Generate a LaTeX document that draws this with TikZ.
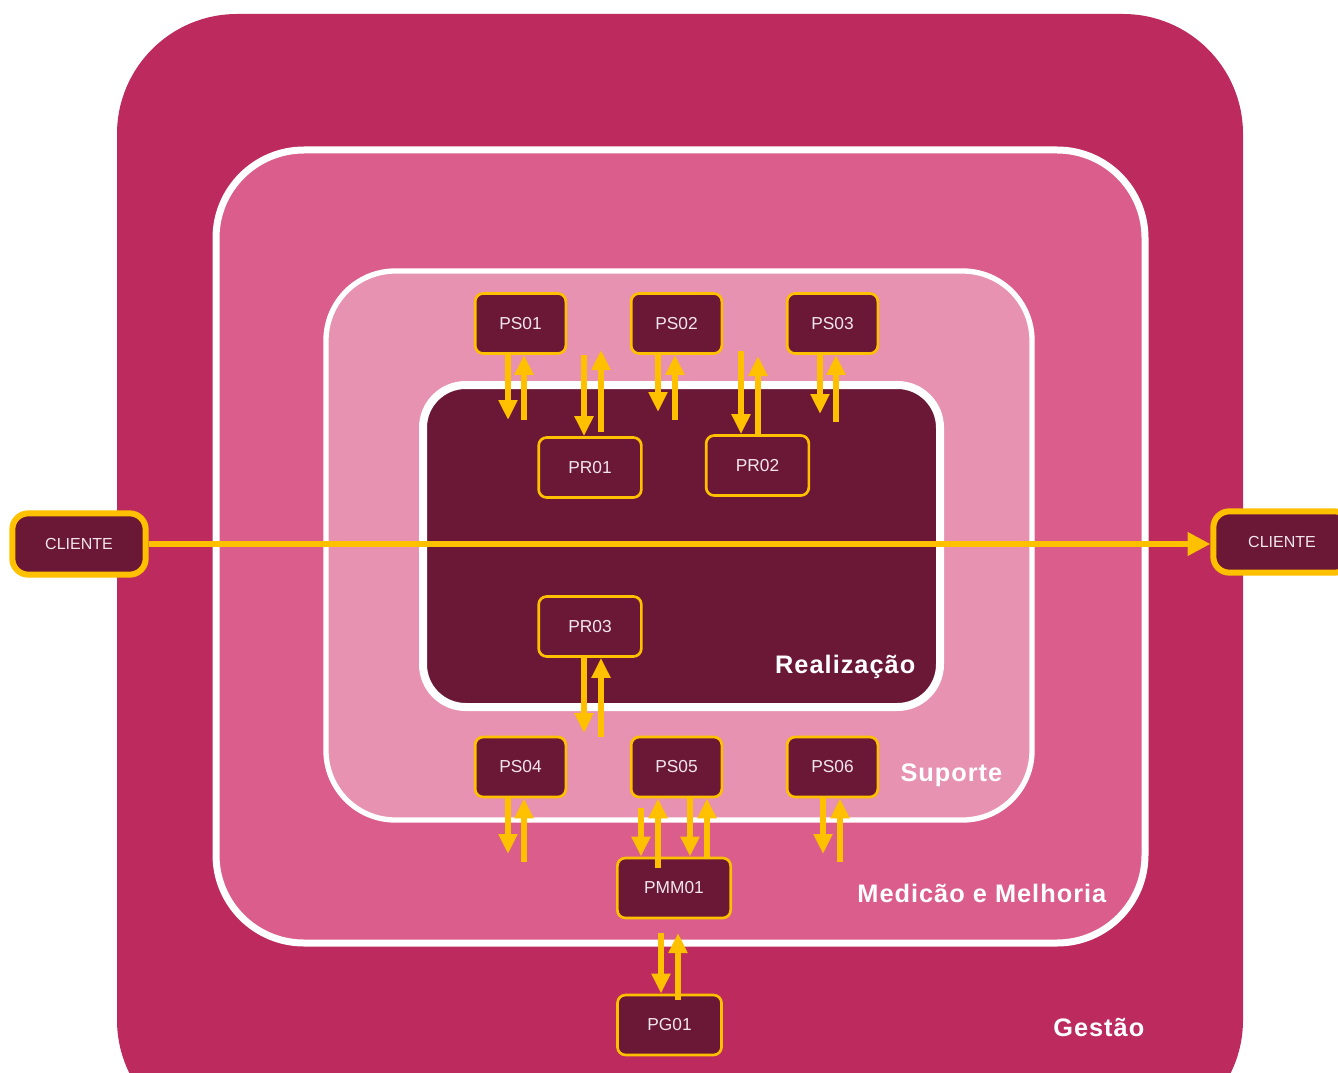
\documentclass[tikz,border=0pt]{standalone}
\usepackage{fontspec}
\setmainfont{Liberation Sans}
\usetikzlibrary{arrows.meta}

\definecolor{gestao}{HTML}{BC2A5E}
\definecolor{medicao}{HTML}{DB5D8C}
\definecolor{suporte}{HTML}{E792B0}
\definecolor{realiz}{HTML}{6B1837}
\definecolor{ouro}{HTML}{FFC000}
\definecolor{texto}{HTML}{F2E6EC}

\tikzset{
  proc/.style={draw=ouro, fill=realiz, line width=2pt, rounded corners=6pt,
    minimum width=68pt, minimum height=45pt, inner sep=0pt,
    text=texto, font=\fontsize{13}{15}\selectfont},
  cliente/.style={proc, line width=4.5pt, rounded corners=12pt,
    minimum width=100pt, minimum height=46pt, font=\fontsize{12}{14}\selectfont},
  flow/.style={draw=ouro, line width=4.5pt,
    -{Triangle[width=13.5pt,length=15pt]}},
  bigflow/.style={draw=ouro, line width=3.8pt,
    -{Triangle[width=17pt,length=17pt]}},
  layer/.style={text=white, font=\bfseries\fontsize{19}{22}\selectfont\addfontfeature{LetterSpace=4}}
}

\begin{document}
\begin{tikzpicture}[x=0.75pt,y=-0.75pt]
  \useasboundingbox (0,0) rectangle (1338,1073);
  \clip (0,0) rectangle (1338,1073);
  \fill[white] (0,0) rectangle (1338,1073);

  % layers
  \fill[gestao, rounded corners=90pt] (117,14) rectangle (1243,1140);
  \draw[fill=medicao, draw=white, line width=5.25pt, rounded corners=66pt] (216,150) rectangle (1145,943);
  \draw[fill=suporte, draw=white, line width=4pt, rounded corners=52pt] (326,271) rectangle (1032,820);
  \draw[fill=realiz, draw=white, line width=6pt, rounded corners=32pt] (423,385) rectangle (940,707);

  \node[layer, anchor=east] (lreal) at (920,667) {Realização};
  \node[layer, anchor=east] (lsup) at (1007,775) {Suporte};
  \node[layer, anchor=east] (lmed) at (1111,893) {Medicão e Melhoria};
  \node[layer, anchor=east] (lges) at (1149,1027) {Gestão};

  % processes
  \node[proc] (ps01) at (520.5,323.5) {PS01};
  \node[proc] (ps02) at (676.5,323.5) {PS02};
  \node[proc] (ps03) at (832.5,323.5) {PS03};
  \node[proc, minimum width=77pt] (pr01) at (590,467.5) {PR01};
  \node[proc, minimum width=77pt] (pr02) at (757.5,465.5) {PR02};
  \node[proc, minimum width=77pt] (pr03) at (590,626.5) {PR03};
  \node[proc] (ps04) at (520.5,767) {PS04};
  \node[proc] (ps05) at (676.5,767) {PS05};
  \node[proc] (ps06) at (832.5,767) {PS06};
  \node[proc, minimum width=85pt] (pmm01) at (674,888) {PMM01};
  \node[proc, minimum width=78pt] (pg01) at (669.5,1025) {PG01};
  \node[cliente] (cin) at (79,544) {CLIENTE};
  \node[cliente, minimum width=103pt] (cout) at (1282,542) {CLIENTE};

  % flows
  \draw[bigflow] (cin.east) -- (cout.west |- cin.east);

  \draw[flow] (ps01.south -| 508,0) -- (508,420);
  \draw[flow] (524,420) -- (ps01.south -| 524,0);
  \draw[flow] (ps01.south -| 584,0) -- (pr01.north -| 584,0);
  \draw[flow] (601,432) -- (601,350);
  \draw[flow] (ps02.south -| 658,0) -- (658,412);
  \draw[flow] (675,420) -- (ps02.south -| 675,0);
  \draw[flow] (741,351) -- (pr02.north -| 741,0);
  \draw[flow] (pr02.north -| 758,0) -- (758,356);
  \draw[flow] (ps03.south -| 820,0) -- (820,414);
  \draw[flow] (836,422) -- (ps03.south -| 836,0);

  \draw[flow] (pr03.south -| 584,0) -- (584,733);
  \draw[flow] (601,737) -- (pr03.south -| 601,0);

  \draw[flow] (ps04.south -| 508,0) -- (508,854);
  \draw[flow] (524,862) -- (ps04.south -| 524,0);
  \draw[flow] (641,808) -- (pmm01.north -| 641,0);
  \draw[flow] (658,868) -- (ps05.south -| 658,0);
  \draw[flow] (ps05.south -| 690,0) -- (pmm01.north -| 690,0);
  \draw[flow] (pmm01.north -| 707,0) -- (ps05.south -| 707,0);
  \draw[flow] (ps06.south -| 823,0) -- (823,854);
  \draw[flow] (840,862) -- (ps06.south -| 840,0);

  \draw[flow] (661,933) -- (pg01.north -| 661,0);
  \draw[flow] (678,1000) -- (678,933);
\end{tikzpicture}
\end{document}
